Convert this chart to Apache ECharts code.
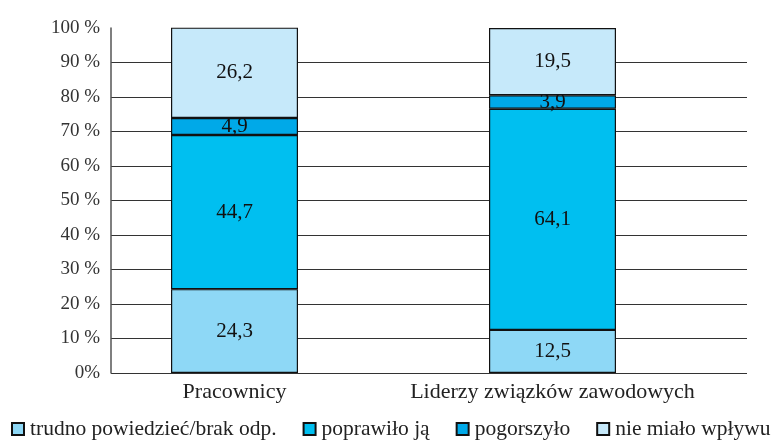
<!DOCTYPE html>
<html>
<head>
<meta charset="utf-8">
<script src="https://cdn.jsdelivr.net/npm/echarts@6/dist/echarts.min.js"></script>
<style>
  html, body { margin: 0; padding: 0; background: #fff; }
  #chart { width: 783px; height: 444px; }
</style>
</head>
<body>
<div id="chart"></div>
<script>
// Respondent groups
const categories = ['Pracownicy', 'Liderzy związków zawodowych'];

// Series names (stack order, bottom to top)
const seriesNames = ['trudno powiedzieć/brak odp.', 'poprawiło ją', 'pogorszyło', 'nie miało wpływu'];

// Shares in percent per group
const trudno = [24.3, 12.5];
const poprawilo = [44.7, 64.1];
const pogorszylo = [4.9, 3.9];
const nieMialo = [26.2, 19.5];

// Y axis tick labels
const yTicks = ['0%', '10 %', '20 %', '30 %', '40 %', '50 %', '60 %', '70 %', '80 %', '90 %', '100 %'];

const colors = ['#8ED8F6', '#00BFF0', '#00A9E8', '#C6E9FA'];
const values = [trudno, poprawilo, pogorszylo, nieMialo];
const serif = 'Liberation Serif';

const chart = echarts.init(document.getElementById('chart'));

const series = seriesNames.map((name, i) => ({
  name: name,
  type: 'bar',
  stack: 'total',
  xAxisIndex: 1,
  yAxisIndex: 1,
  barWidth: 127,
  data: values[i],
  itemStyle: { color: colors[i], borderColor: '#111', borderWidth: 1.2 },
  label: {
    show: true,
    position: 'inside',
    color: '#111',
    fontFamily: serif,
    fontSize: 21,
    formatter: p => String(p.value).replace('.', ',')
  }
}));

chart.setOption({
  animation: false,
  backgroundColor: '#fff',
  textStyle: { fontFamily: serif },
  grid: [
    { left: 111, right: 36, top: 28, bottom: 71 },
    { left: 75.5, right: 71.5, top: 28, bottom: 71 }
  ],
  legend: {
    orient: 'horizontal',
    left: 11,
    top: 418,
    width: 900,
    padding: 0,
    itemWidth: 12,
    itemHeight: 12,
    itemGap: 26,
    icon: 'rect',
    textStyle: { fontFamily: serif, fontSize: 21.5, color: '#222', padding: [0, 0, 0, 1] },
    data: seriesNames
  },
  xAxis: [
    { gridIndex: 0, type: 'value', min: 0, max: 1, show: false },
    {
      gridIndex: 1,
      type: 'category',
      data: categories,
      axisLine: { show: false },
      axisTick: { show: false },
      axisLabel: { interval: 0, margin: 8, fontFamily: serif, fontSize: 22, color: '#222' }
    }
  ],
  yAxis: [
    {
      gridIndex: 0,
      type: 'value',
      min: 0,
      max: 100,
      interval: 10,
      axisLine: { show: true, lineStyle: { color: '#555', width: 1.5 } },
      axisTick: { show: false },
      axisLabel: {
        margin: 11,
        fontFamily: serif,
        fontSize: 19,
        color: '#333',
        formatter: v => yTicks[Math.round(v / 10)]
      },
      splitLine: { show: true, showMaxLine: false, lineStyle: { color: '#333', width: 1.2 } }
    },
    { gridIndex: 1, type: 'value', min: 0, max: 100, show: false }
  ],
  series: series
});
</script>
</body>
</html>
